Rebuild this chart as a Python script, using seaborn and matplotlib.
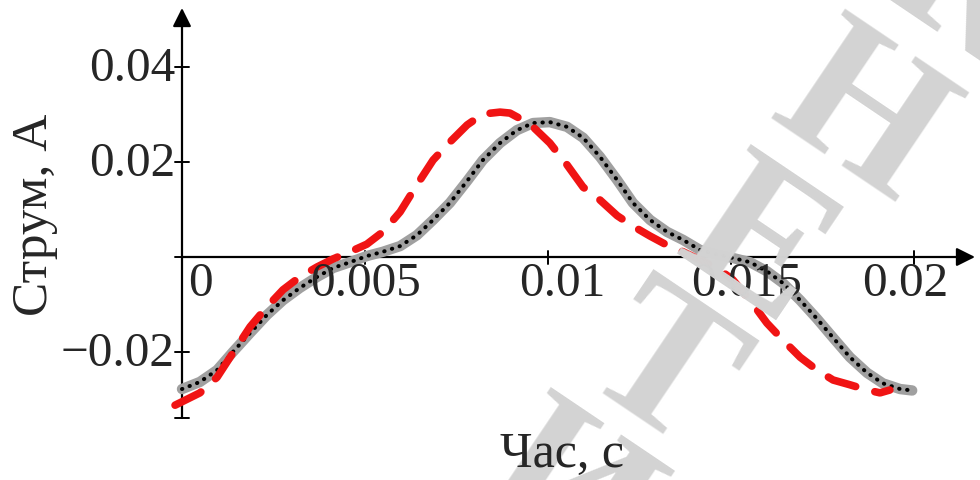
import numpy as np
import pandas as pd
import matplotlib
matplotlib.use("Agg")
import matplotlib.pyplot as plt
import matplotlib.transforms as mtransforms
import seaborn as sns

# ---- data (time in s, current in A) ----
t_ref = [0.0, 0.00049, 0.00096, 0.00139, 0.00186, 0.00232, 0.00276, 0.00322, 0.00369,
         0.00413, 0.00459, 0.00505, 0.00549, 0.00596, 0.00642, 0.00686, 0.00732, 0.00779,
         0.00822, 0.00869, 0.00915, 0.00959, 0.01005, 0.01052, 0.01096, 0.01142, 0.01189,
         0.01232, 0.01279, 0.01325, 0.01369, 0.01415, 0.01462, 0.01505, 0.01552, 0.01598,
         0.01642, 0.01689, 0.01735, 0.01779, 0.01825, 0.01872, 0.01915, 0.01962, 0.01995]
i_ref = [-0.0278, -0.0263, -0.0238, -0.0200, -0.0160, -0.0122, -0.0091, -0.0065, -0.0042,
         -0.0023, -0.0011, 0.0002, 0.0011, 0.0023, 0.0046, 0.0078, 0.0114, 0.0160,
         0.0204, 0.0240, 0.0267, 0.0282, 0.0284, 0.0274, 0.0251, 0.0211, 0.0162,
         0.0114, 0.0078, 0.0053, 0.0036, 0.0015, 0.0005, -0.0002, -0.0011, -0.0030,
         -0.0055, -0.0091, -0.0130, -0.0170, -0.0211, -0.0244, -0.0266, -0.0278, -0.0281]

t_mod = [-0.00019, 0.00049, 0.00096, 0.00139, 0.00186, 0.00232, 0.00276, 0.00322, 0.00369,
         0.00413, 0.00459, 0.00505, 0.00549, 0.00596, 0.00642, 0.00686, 0.00732, 0.00779,
         0.00822, 0.00869, 0.00896, 0.00932, 0.00959, 0.01005, 0.01052, 0.01096, 0.01142,
         0.01189, 0.01232, 0.01279, 0.01325, 0.01369, 0.01415, 0.01462, 0.01505, 0.01552,
         0.01598, 0.01642, 0.01689, 0.01735, 0.01779, 0.01825, 0.01872, 0.01907, 0.01934]
i_mod = [-0.0312, -0.0286, -0.0253, -0.0202, -0.0147, -0.0105, -0.0069, -0.0042, -0.0021,
         -0.0004, 0.0011, 0.0027, 0.0053, 0.0095, 0.0152, 0.0204, 0.0242, 0.0278,
         0.0301, 0.0305, 0.0303, 0.0288, 0.0274, 0.0240, 0.0194, 0.0147, 0.0120,
         0.0087, 0.0065, 0.0044, 0.0025, 0.0011, -0.0006, -0.0023, -0.0048, -0.0091,
         -0.0139, -0.0175, -0.0211, -0.0238, -0.0259, -0.0269, -0.0280, -0.0286, -0.0280]

x_ticks = [0.0, 0.005, 0.01, 0.015, 0.02]
x_tick_labels = ["0", "0.005", "0.01", "0.015", "0.02"]
y_ticks = [0.04, 0.02, -0.02]
y_tick_labels = ["0.04", "0.02", "\u22120.02"]
x_title = "Час, с"
y_title = "Струм, А"
watermark = ["К", "Н", "Е", "Т", "И"]

# ---- style ----
sns.set_style("white")
plt.rcParams["font.family"] = ["Liberation Serif", "DejaVu Serif"]
FS = 35.5

W, H = 980, 480
fig = plt.figure(figsize=(W / 100, H / 100), dpi=100)
ax = fig.add_axes([0, 0, 1, 1])
px_x, px_y = 36600.0, 4750.0   # pixels per data unit
x0_px, y0_px = 182, 257
ax.set_xlim(-x0_px / px_x, (W - x0_px) / px_x)
ax.set_ylim(-(H - y0_px) / px_y, y0_px / px_y)
ax.axis("off")

# watermark (light grey letters, stacked and tilted)
wm_pos = [(965, -5), (858, 122), (755, 250), (658, 376), (565, 500)]
for ch, (px, py) in zip(watermark, wm_pos):
    fig.text(px / W, 1 - py / H, ch, fontsize=145, fontweight="bold", color="#d3d3d3",
             rotation=-34, rotation_mode="anchor", ha="center", va="center",
             zorder=0, family=["Liberation Serif"])

df_ref = pd.DataFrame({"t": t_ref, "i": i_ref})
df_mod = pd.DataFrame({"t": t_mod, "i": i_mod})

sns.lineplot(data=df_ref, x="t", y="i", ax=ax, sort=False, color="#a0a0a0",
             lw=7.5, solid_capstyle="round", zorder=3)
sns.lineplot(data=df_ref, x="t", y="i", ax=ax, sort=False, color="black",
             lw=2.9, linestyle=(0, (0.1, 1.9)), dash_capstyle="round", zorder=4)
sns.lineplot(data=df_mod, x="t", y="i", ax=ax, sort=False, color="#f01414",
             lw=5.5, linestyle=(0, (3.8, 2.6)), dash_capstyle="round", zorder=5)

# ---- axes with arrows ----
x_tip = (975 - x0_px) / px_x
y_tip = (y0_px - 8) / px_y
y_bot = -(418 - y0_px) / px_y
ax.annotate("", xy=(x_tip, 0), xytext=(0, 0),
            arrowprops=dict(arrowstyle="-|>", lw=1.6, color="black",
                            mutation_scale=28, shrinkA=0, shrinkB=0), zorder=2)
ax.annotate("", xy=(0, y_tip), xytext=(0, y_bot),
            arrowprops=dict(arrowstyle="-|>", lw=1.6, color="black",
                            mutation_scale=28, shrinkA=0, shrinkB=0), zorder=2)

# tick marks
tx = 7 / px_x
ty = 6.5 / px_y
for yv in y_ticks + [0.0, y_bot]:
    ax.plot([-tx, tx], [yv, yv], color="black", lw=1.4, zorder=2)
for xv in x_ticks[1:]:
    ax.plot([xv, xv], [-ty, ty], color="black", lw=1.4, zorder=2)

# tick labels
x_off = [18, 0, 14, 16, -9]
for xv, lab, dx in zip(x_ticks, x_tick_labels, x_off):
    tr = mtransforms.offset_copy(ax.transData, fig=fig, x=dx, y=-5, units="dots")
    ax.text(xv, 0, lab, transform=tr, ha="center", va="top", fontsize=FS, zorder=6)
for yv, lab in zip(y_ticks, y_tick_labels):
    tr = mtransforms.offset_copy(ax.transData, fig=fig, x=-7, y=-2, units="dots")
    ax.text(0, yv, lab, transform=tr, ha="right", va="center", fontsize=FS, zorder=6)

# axis titles
fig.text(35 / W, 1 - 215 / H, y_title, rotation=90, ha="center", va="center", fontsize=37)
fig.text(562 / W, 1 - 455 / H, x_title, ha="center", va="center", fontsize=36)

fig.savefig("out.png", dpi=100)
